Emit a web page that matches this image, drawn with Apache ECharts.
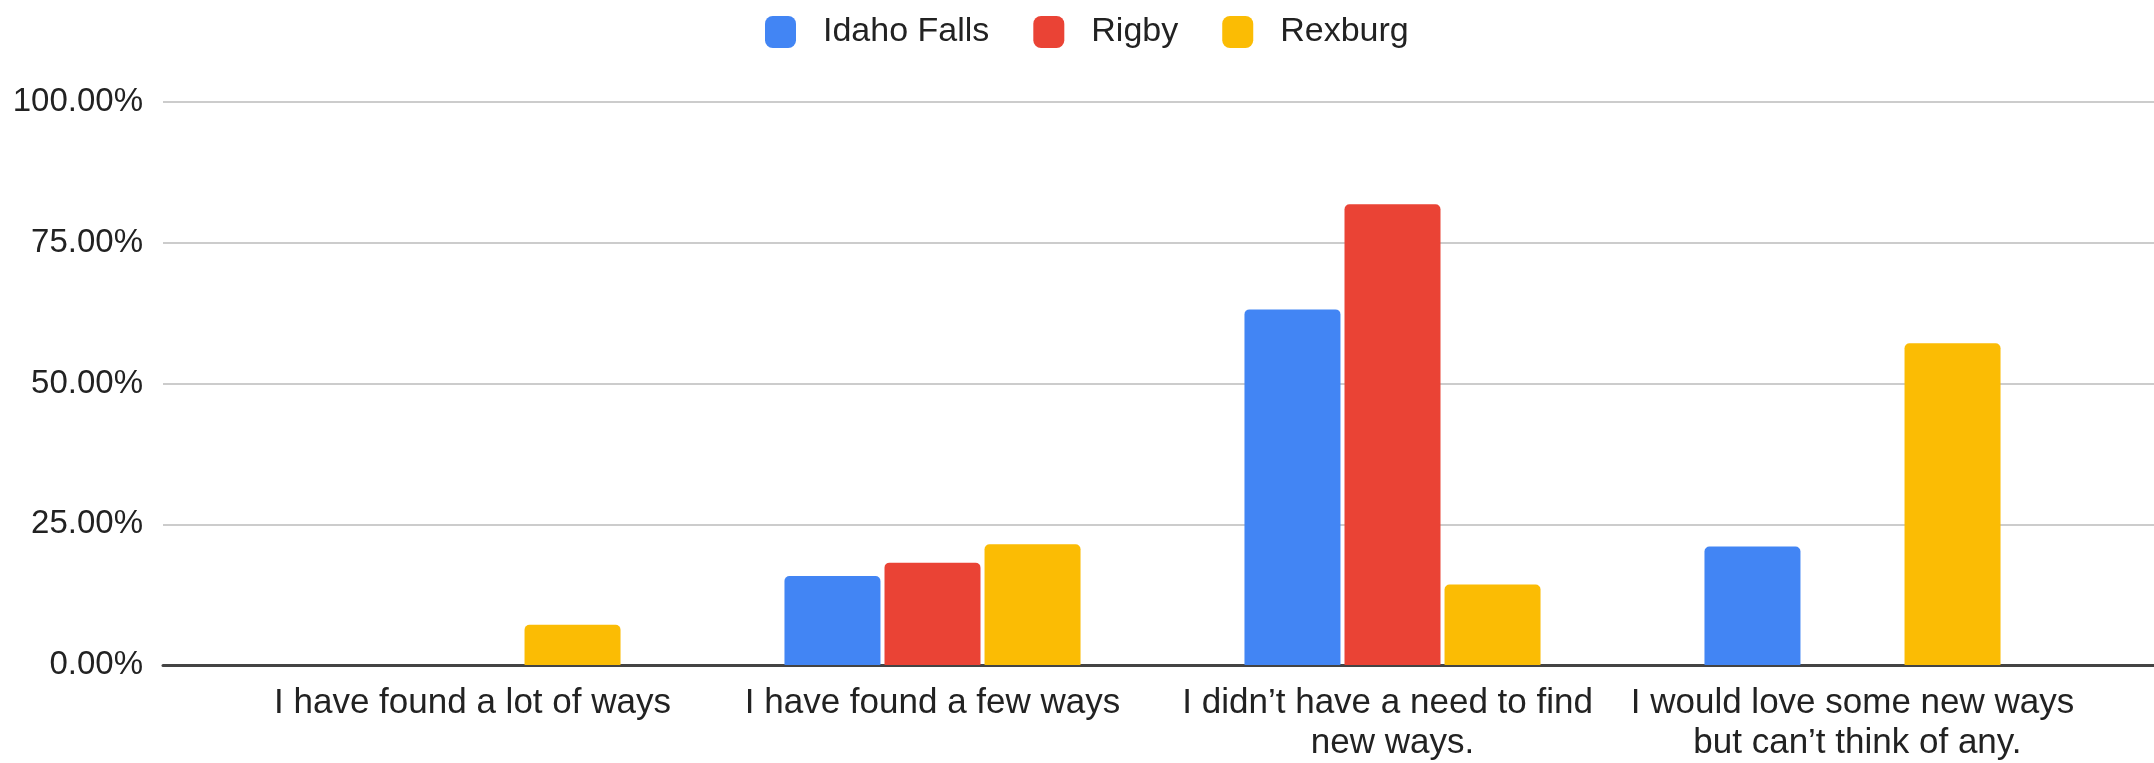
<!DOCTYPE html>
<html>
<head>
<meta charset="utf-8">
<script src="https://cdn.jsdelivr.net/npm/echarts@6/dist/echarts.min.js"></script>
<style>
html,body{margin:0;padding:0;background:#fff;}
#chart{width:2154px;height:763px;}
</style>
</head>
<body>
<div id="chart"></div>
<script>
const categories = [
  "I have found a lot of ways",
  "I have found a few ways",
  "I didn’t have a need to find new ways.",
  "I would love some new ways but can’t think of any."
];
const seriesNames = ["Idaho Falls", "Rigby", "Rexburg"];
const idahoFalls = [0, 15.79, 63.16, 21.05];
const rigby = [0, 18.18, 81.82, 0];
const rexburg = [7.14, 21.43, 14.29, 57.14];
const yTicks = [0, 25, 50, 75, 100];
const colors = ["#4285F4", "#EA4335", "#FBBC04"];

const FONT = "'Liberation Sans', Arial, sans-serif";
const chart = echarts.init(document.getElementById('chart'), null, {renderer: 'canvas'});
const values = [idahoFalls, rigby, rexburg];

chart.setOption({
  animation: false,
  backgroundColor: '#ffffff',
  color: colors,
  legend: {
    left: 760,
    top: 10,
    itemWidth: 31,
    itemHeight: 32,
    itemGap: 44,
    icon: 'roundRect',
    textStyle: {fontFamily: FONT, fontSize: 34, color: '#222', padding: [0, 0, 0, 22]},
    data: seriesNames
  },
  grid: [
    {left: 163, right: 0, top: 102, bottom: 98, containLabel: false},
    {left: 242.5, right: 71.5, top: 102, bottom: 98, containLabel: false}
  ],
  xAxis: [
    {
      gridIndex: 0, type: 'value', min: 0, max: 1,
      axisLine: {show: true, lineStyle: {color: '#444', width: 3}},
      axisTick: {show: false}, axisLabel: {show: false}, splitLine: {show: false}
    },
    {
      gridIndex: 1, type: 'category', data: categories,
      axisLine: {show: false}, axisTick: {show: false},
      axisLabel: {
        fontFamily: FONT, fontSize: 35, color: '#222', margin: 18, lineHeight: 40,
        width: 450, overflow: 'break', interval: 0, align: 'center'
      }
    }
  ],
  yAxis: [
    {
      gridIndex: 0, type: 'value', min: yTicks[0], max: yTicks[yTicks.length - 1], interval: 25,
      axisLine: {show: false}, axisTick: {show: false},
      axisLabel: {
        fontFamily: FONT, fontSize: 33, color: '#222', margin: 20,
        formatter: v => v.toFixed(2) + '%'
      },
      splitLine: {lineStyle: {color: '#cccccc', width: 2}}
    },
    {
      gridIndex: 1, type: 'value', min: 0, max: 100, interval: 25, show: false,
      splitLine: {show: false}
    }
  ],
  series: seriesNames.map((name, i) => ({
    name: name,
    type: 'bar',
    xAxisIndex: 1,
    yAxisIndex: 1,
    data: values[i],
    barWidth: 96,
    barGap: '4.2%',
    itemStyle: {color: colors[i], borderRadius: [5, 5, 0, 0]}
  }))
});
</script>
</body>
</html>
